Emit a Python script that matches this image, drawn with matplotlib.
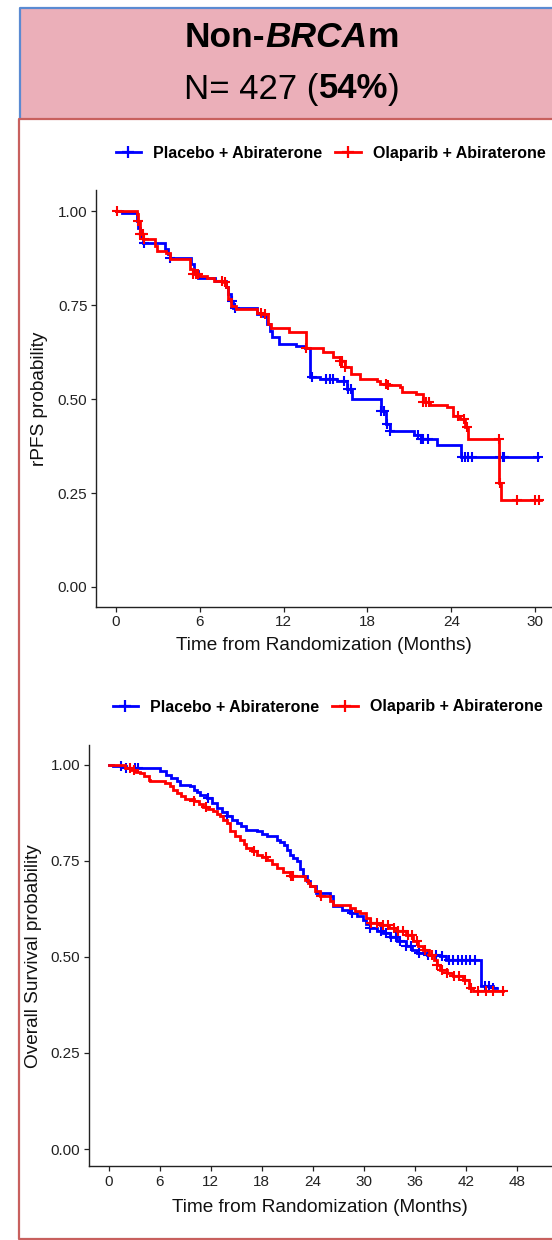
import numpy as np
import matplotlib
matplotlib.use('Agg')
import matplotlib.pyplot as plt
from matplotlib.patches import Rectangle
from matplotlib.lines import Line2D

plt.rcParams['font.family'] = ['Liberation Sans', 'DejaVu Sans']

# ---------------- data ----------------
arm_labels = ['Placebo + Abiraterone', 'Olaparib + Abiraterone']
arm_colors = ['#0000FF', '#FF0000']

# rPFS (top panel)
pfs_pla_t = [0, 0.4, 1.5, 1.6, 1.75, 1.9, 3.5, 3.7, 3.9, 5.4, 5.6, 5.9, 7.1, 7.9, 8.0, 8.2, 8.4,
             10.1, 10.5, 10.8, 11.0, 11.2, 11.7, 12.9, 13.5, 13.9, 14.6, 15.8, 16.5, 16.9,
             19.0, 19.3, 19.6, 21.3, 21.8, 23.0, 24.7, 30.2]
pfs_pla_s = [1.0, 0.995, 0.973, 0.956, 0.939, 0.916, 0.898, 0.887, 0.876, 0.858, 0.84, 0.823, 0.814,
             0.797, 0.779, 0.761, 0.743, 0.726, 0.721, 0.70, 0.68, 0.664, 0.646, 0.642, 0.637, 0.558,
             0.553, 0.549, 0.527, 0.50, 0.469, 0.434, 0.416, 0.403, 0.394, 0.377, 0.346, 0.346]
pfs_ola_t = [0, 1.5, 1.6, 1.7, 1.95, 2.8, 2.9, 3.6, 3.9, 5.3, 5.5, 6.0, 6.5, 7.0, 7.7, 7.9, 8.0, 8.2,
             8.6, 10.1, 10.5, 10.9, 11.1, 12.4, 13.6, 14.8, 15.5, 16.0, 16.4, 16.8, 17.5, 18.7, 18.9,
             19.4, 20.3, 20.5, 21.5, 22.0, 22.5, 23.7, 24.1, 24.6, 25.0, 25.2, 27.45, 27.55, 30.4]
pfs_ola_s = [1.0, 0.991, 0.973, 0.939, 0.925, 0.907, 0.894, 0.889, 0.872, 0.846, 0.833, 0.828, 0.823,
             0.814, 0.81, 0.797, 0.767, 0.748, 0.739, 0.73, 0.726, 0.70, 0.69, 0.677, 0.637, 0.624,
             0.611, 0.602, 0.584, 0.567, 0.554, 0.549, 0.541, 0.536, 0.531, 0.518, 0.514, 0.492,
             0.483, 0.478, 0.456, 0.448, 0.425, 0.394, 0.277, 0.231, 0.231]
pfs_pla_cens = [1.85, 2.0, 3.9, 8.3, 8.5, 14.0, 15.0, 15.3, 15.5, 16.3, 16.6, 16.8, 19.0, 19.2, 19.4,
                19.6, 21.6, 21.8, 22.0, 22.3, 24.8, 25.0, 25.2, 25.5, 27.5, 27.7, 27.8, 30.2]
pfs_ola_cens = [0.05, 1.6, 1.75, 1.9, 2.0, 5.5, 5.7, 5.9, 7.6, 7.8, 10.4, 10.7, 13.6, 16.0, 16.2,
                16.4, 19.3, 19.5, 22.0, 22.2, 22.4, 24.5, 24.9, 25.1, 27.4, 27.5, 28.7, 30.0, 30.3]

# Overall survival (bottom panel)
os_pla_t = [0, 0.5, 2.0, 6.1, 6.8, 7.4, 8.0, 8.4, 9.6, 10.0, 10.4, 10.8, 11.6, 12.1, 12.7, 13.3,
            13.9, 14.5, 15.1, 15.6, 16.2, 17.4, 18.0, 18.6, 19.8, 20.2, 20.6, 21.0, 21.3, 21.7,
            22.1, 22.5, 22.9, 23.3, 23.7, 24.4, 26.0, 26.4, 27.4, 28.4, 29.2, 29.9, 30.3, 30.7,
            31.5, 32.3, 33.1, 33.9, 35.0, 35.6, 36.2, 37.4, 39.0, 39.7, 43.8, 45.2, 45.6]
os_pla_s = [1.0, 0.996, 0.991, 0.983, 0.974, 0.966, 0.957, 0.948, 0.944, 0.935, 0.928, 0.922, 0.913,
            0.90, 0.887, 0.876, 0.865, 0.857, 0.848, 0.84, 0.831, 0.826, 0.82, 0.813, 0.805, 0.798,
            0.792, 0.779, 0.766, 0.757, 0.748, 0.728, 0.709, 0.696, 0.683, 0.666, 0.657, 0.631,
            0.622, 0.614, 0.605, 0.596, 0.585, 0.575, 0.568, 0.562, 0.551, 0.54, 0.527, 0.518,
            0.51, 0.505, 0.501, 0.492, 0.423, 0.418, 0.418]
os_ola_t = [0, 1.9, 2.7, 3.2, 3.7, 4.2, 4.7, 4.9, 6.6, 7.2, 7.6, 8.0, 8.5, 9.0, 10.0, 10.6, 11.1,
            11.7, 12.3, 12.7, 13.1, 13.5, 13.9, 14.3, 14.9, 15.5, 15.9, 16.2, 16.8, 17.4, 18.0,
            18.6, 19.2, 19.8, 20.5, 21.3, 23.1, 23.4, 23.7, 24.3, 24.9, 26.0, 26.4, 28.4, 29.0,
            29.6, 30.2, 30.7, 31.9, 32.9, 33.9, 35.0, 35.8, 36.4, 37.0, 37.6, 38.2, 38.6, 39.0,
            39.8, 40.5, 41.7, 42.3, 42.8, 46.4]
os_ola_s = [1.0, 0.991, 0.985, 0.982, 0.978, 0.97, 0.961, 0.957, 0.952, 0.944, 0.935, 0.926, 0.918,
            0.911, 0.905, 0.898, 0.891, 0.885, 0.879, 0.872, 0.865, 0.857, 0.848, 0.826, 0.815,
            0.805, 0.794, 0.783, 0.774, 0.766, 0.759, 0.753, 0.742, 0.731, 0.72, 0.709, 0.70,
            0.692, 0.683, 0.67, 0.657, 0.644, 0.635, 0.627, 0.62, 0.614, 0.601, 0.588, 0.583,
            0.575, 0.566, 0.557, 0.54, 0.529, 0.518, 0.505, 0.492, 0.479, 0.466, 0.457, 0.449,
            0.44, 0.418, 0.41, 0.41]
os_pla_cens = [1.5, 2.0, 3.1, 3.5, 11.7, 13.9, 28.6, 30.7, 32.0, 32.6, 33.2, 33.8, 34.3, 35.0, 35.5,
               36.5, 37.5, 38.5, 39.2, 40.0, 40.5, 41.0, 41.5, 42.0, 42.5, 43.0, 44.2, 44.7, 45.2]
os_ola_cens = [2.5, 3.0, 10.0, 11.5, 17.1, 18.5, 21.4, 21.7, 25.0, 30.8, 31.5, 32.3, 32.8, 33.5,
               34.0, 34.6, 35.2, 35.6, 36.2, 37.2, 38.0, 38.6, 39.2, 39.8, 40.6, 41.2, 41.9, 42.6,
               43.4, 44.3, 45.2, 46.4]

pfs_xticks = [0, 6, 12, 18, 24, 30]
os_xticks = [0, 6, 12, 18, 24, 30, 36, 42, 48]
yticks = [0.0, 0.25, 0.5, 0.75, 1.0]
ytick_labels = ['0.00', '0.25', '0.50', '0.75', '1.00']
xlabel = 'Time from Randomization (Months)'
pfs_ylabel = 'rPFS probability'
os_ylabel = 'Overall Survival probability'

# ---------------- figure ----------------
W, H, DPI = 552, 1240, 100
fig = plt.figure(figsize=(W / DPI, H / DPI), dpi=DPI)
fig.patch.set_facecolor('white')


def fx(x):
    return x / W


def fy(y):
    return 1 - y / H


# header box and panel frame
fig.add_artist(Rectangle((fx(20), fy(118)), 1.2, fy(8.3) - fy(118), transform=fig.transFigure,
                         facecolor='#EBAFB9', edgecolor='none', zorder=0))
fig.add_artist(Line2D([fx(20), fx(20), fx(600)], [fy(118), fy(8.3), fy(8.3)],
                      transform=fig.transFigure, color='#5A8AD2', lw=1.6))
fig.add_artist(Line2D([fx(600), fx(19.3), fx(19.3), fx(600)],
                      [fy(118.6), fy(118.6), fy(1238.8), fy(1238.8)],
                      transform=fig.transFigure, color='#C8605E', lw=1.6))


def rich_line(pieces, xc, yc, size):
    texts = []
    for s, w, st in pieces:
        texts.append(fig.text(0, fy(yc), s, fontsize=size, fontweight=w, fontstyle=st,
                              va='center', ha='left'))
    fig.canvas.draw()
    r = fig.canvas.get_renderer()
    widths = [t.get_window_extent(r).width for t in texts]
    x = xc - sum(widths) / 2
    for t, w in zip(texts, widths):
        t.set_x(fx(x))
        x += w


rich_line([('Non-', 'bold', 'normal'), ('BRCA', 'bold', 'italic'), ('m', 'bold', 'normal')],
          292, 37.5, 25.5)
rich_line([('N= 427 (', 'normal', 'normal'), ('54%', 'bold', 'normal'), (')', 'normal', 'normal')],
          292, 89, 25)


def surv_at(times, surv, c):
    idx = np.searchsorted(np.asarray(times), np.asarray(c), side='right') - 1
    return np.asarray(surv)[idx]


def rect_center_x(rect):
    return (rect[0] + rect[2] / 2) * W


def km_panel(rect, xlim, ylim, xticks, curves, ylabel, ylab_x, xlab_y, leg_xy):
    ax = fig.add_axes(rect)
    handles = []
    for (t, s, c), col, lab in zip(curves, arm_colors, arm_labels):
        ax.step(t, s, where='post', color=col, lw=2.0, solid_joinstyle='miter')
        ax.plot(c, surv_at(t, s, c), linestyle='none', marker='+', ms=7, mew=1.5, color=col)
        handles.append(Line2D([], [], color=col, lw=2.0, marker='+', ms=8, mew=1.6, label=lab))
    ax.set_xlim(*xlim)
    ax.set_ylim(*ylim)
    ax.set_xticks(xticks)
    ax.set_xticklabels([str(v) for v in xticks])
    ax.set_yticks(yticks)
    ax.set_yticklabels(ytick_labels)
    for sp in ['top', 'right']:
        ax.spines[sp].set_visible(False)
    for sp in ['left', 'bottom']:
        ax.spines[sp].set_linewidth(1.0)
        ax.spines[sp].set_color('#222222')
    ax.tick_params(direction='out', length=3.5, width=0.9, labelsize=11, pad=2.5,
                   colors='#222222')
    ax.set_xlabel(xlabel, fontsize=13.7, va='center', color='#111111')
    ax.xaxis.set_label_coords(fx(rect_center_x(rect)), fy(xlab_y), transform=fig.transFigure)
    ax.set_ylabel(ylabel, fontsize=13.7, va='center', ha='center', color='#111111')
    ax.yaxis.set_label_coords(fx(ylab_x), rect[1] + rect[3] / 2, transform=fig.transFigure)
    ax.legend(handles=handles, loc='center', ncol=2, frameon=False,
              bbox_to_anchor=(fx(leg_xy[0]), fy(leg_xy[1])), bbox_transform=fig.transFigure,
              prop={'weight': 'bold', 'size': 11.5}, handlelength=1.6, handletextpad=0.75,
              columnspacing=0.8, borderaxespad=0)
    return ax


top_rect = [fx(95.8), fy(606.8), (552 - 95.8) / W, (606.8 - 190) / H]
bot_rect = [fx(88.5), fy(1166.3), (552 - 88.5) / W, (1166.3 - 745) / H]

km_panel(top_rect, (-1.446, 31.21), (-0.0527, 1.056), pfs_xticks,
         [(pfs_pla_t, pfs_pla_s, pfs_pla_cens), (pfs_ola_t, pfs_ola_s, pfs_ola_cens)],
         pfs_ylabel, 40, 646, (330.5, 153.3))
km_panel(bot_rect, (-2.35, 52.1), (-0.045, 1.051), os_xticks,
         [(os_pla_t, os_pla_s, os_pla_cens), (os_ola_t, os_ola_s, os_ola_cens)],
         os_ylabel, 34, 1207.5, (327.5, 707))

fig.savefig('out.png', dpi=DPI)
